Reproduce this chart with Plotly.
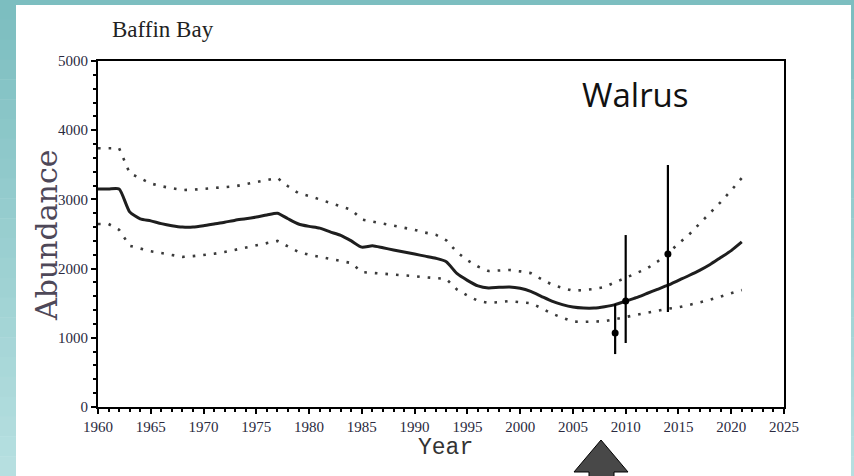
import plotly.graph_objects as go

# ---------------- data ----------------
years = list(range(1960, 2022))
abundance = [3150, 3150, 3150, 2820, 2720, 2690, 2650, 2620, 2600, 2600,
             2620, 2645, 2670, 2700, 2720, 2745, 2775, 2800, 2720, 2645,
             2610, 2585, 2530, 2480, 2400, 2310, 2330, 2300, 2270, 2240,
             2210, 2180, 2150, 2100, 1930, 1830, 1750, 1720, 1730, 1735,
             1715, 1670, 1600, 1530, 1480, 1445, 1430, 1430, 1450, 1480,
             1530, 1580, 1640, 1700, 1760, 1830, 1900, 1975, 2060, 2160,
             2260, 2385]
upper_ci = [3740, 3740, 3740, 3380, 3300, 3230, 3190, 3160, 3135, 3140,
            3150, 3160, 3175, 3190, 3220, 3250, 3280, 3310, 3190, 3090,
            3050, 3000, 2960, 2900, 2850, 2710, 2680, 2650, 2630, 2590,
            2560, 2520, 2490, 2410, 2240, 2120, 2030, 1965, 1970, 1980,
            1960, 1935, 1850, 1770, 1720, 1680, 1690, 1705, 1735, 1800,
            1865, 1935, 2000, 2100, 2220, 2360, 2490, 2650, 2800, 2960,
            3130, 3310]
lower_ci = [2645, 2645, 2560, 2330, 2290, 2250, 2225, 2195, 2170, 2180,
            2195, 2215, 2240, 2270, 2300, 2340, 2370, 2400, 2320, 2240,
            2200, 2170, 2140, 2110, 2080, 1950, 1940, 1930, 1910, 1900,
            1890, 1875, 1860, 1850, 1700, 1610, 1535, 1505, 1515, 1530,
            1515, 1500, 1430, 1350, 1290, 1235, 1230, 1230, 1240, 1270,
            1300, 1330, 1370, 1395, 1420, 1440, 1470, 1510, 1550, 1600,
            1640, 1690]

survey_years = [2009, 2010, 2014]
survey_est = [1070, 1530, 2210]
survey_hi = [1490, 2485, 3497]
survey_lo = [765, 925, 1373]

x_ticks = list(range(1960, 2030, 5))
y_ticks = [0, 1000, 2000, 3000, 4000, 5000]

# ---------------- geometry helpers (pixels -> paper) ----------------
W_FIG, H_FIG = 854, 476
L, R, T, B = 98, 784, 61, 407
PW, PH = R - L, B - T


def px(x):
    return (x - L) / PW


def py(y):
    return (B - y) / PH


fig = go.Figure()

# confidence bands
dot_style = dict(color="#3a3a3a", width=2.6, dash="2.6px,8px")
fig.add_trace(go.Scatter(x=years, y=upper_ci, mode="lines", line=dot_style,
                         hoverinfo="skip", showlegend=False))
fig.add_trace(go.Scatter(x=years, y=lower_ci, mode="lines", line=dot_style,
                         hoverinfo="skip", showlegend=False))
# trend line
fig.add_trace(go.Scatter(x=years, y=abundance, mode="lines",
                         line=dict(color="#1e1e1e", width=3, shape="spline", smoothing=0.6),
                         showlegend=False))
# survey estimates with error bars
fig.add_trace(go.Scatter(
    x=survey_years, y=survey_est, mode="markers",
    marker=dict(color="black", size=7),
    error_y=dict(type="data", symmetric=False,
                 array=[h - e for h, e in zip(survey_hi, survey_est)],
                 arrayminus=[e - l for e, l in zip(survey_est, survey_lo)],
                 color="black", thickness=2.2, width=0),
    showlegend=False))

# ---------------- decoration ----------------
shapes = []
# teal gradient background
n = 24
c0 = (124, 190, 192)
c1 = (182, 223, 224)
for i in range(n):
    t = i / (n - 1)
    c = tuple(int(round(a + (b - a) * t)) for a, b in zip(c0, c1))
    y0 = H_FIG * i / n
    y1 = H_FIG * (i + 1) / n + 0.5
    shapes.append(dict(type="rect", xref="paper", yref="paper",
                       x0=px(0), x1=px(W_FIG), y0=py(y1), y1=py(y0),
                       fillcolor="rgb(%d,%d,%d)" % c, line=dict(width=0),
                       layer="below"))
# white panel
shapes.append(dict(type="rect", xref="paper", yref="paper",
                   x0=px(16), x1=px(851), y0=py(480), y1=py(5),
                   fillcolor="white", line=dict(width=0), layer="below"))
# arrow pointing up
pts = [(601, 440), (628, 472), (614, 472), (614, 480), (589, 480), (589, 472), (574, 472)]
path = "M " + " L ".join("%.5f,%.5f" % (px(a), py(b)) for a, b in pts) + " Z"
shapes.append(dict(type="path", xref="paper", yref="paper", path=path,
                   fillcolor="#484848", line=dict(color="black", width=1)))

annotations = [
    dict(text="Baffin Bay", xref="paper", yref="paper", x=px(163), y=py(30),
         xanchor="center", yanchor="middle", showarrow=False,
         font=dict(family="Liberation Serif", size=23, color="#222222")),
    dict(text="Walrus", xref="paper", yref="paper", x=px(635), y=py(94),
         xanchor="center", yanchor="middle", showarrow=False,
         font=dict(family="Open Sans", size=33, color="#111111")),
    dict(text="Abundance", xref="paper", yref="paper", x=px(46), y=py(236),
         xanchor="center", yanchor="middle", showarrow=False, textangle=-90,
         font=dict(family="DejaVu Serif", size=30, color="#4e4858")),
    dict(text="Year", xref="paper", yref="paper", x=px(445), y=py(448),
         xanchor="center", yanchor="middle", showarrow=False,
         font=dict(family="Liberation Mono", size=23, color="#333333")),
]

tick_font = dict(family="Liberation Serif", size=15, color="#2a2a40")

fig.update_layout(
    width=W_FIG, height=H_FIG,
    margin=dict(l=L, r=W_FIG - R, t=T, b=H_FIG - B, pad=0),
    paper_bgcolor="white", plot_bgcolor="rgba(0,0,0,0)",
    shapes=shapes, annotations=annotations,
    xaxis=dict(range=[1960, 2025], tickvals=x_ticks, ticktext=[str(v) for v in x_ticks],
               showgrid=False, zeroline=False, showline=True, mirror=True,
               linecolor="black", linewidth=2, ticks="outside", ticklen=5,
               tickwidth=2, tickcolor="black", tickfont=tick_font,
               minor=dict(dtick=1, ticks="outside", ticklen=3, tickwidth=1.5,
                          tickcolor="black", showgrid=False)),
    yaxis=dict(range=[0, 5000], tickvals=y_ticks, ticktext=[str(v) for v in y_ticks],
               showgrid=False, zeroline=False, showline=True, mirror=True,
               linecolor="black", linewidth=2, ticks="outside", ticklen=5,
               tickwidth=2, tickcolor="black", tickfont=tick_font,
               minor=dict(dtick=200, ticks="outside", ticklen=3, tickwidth=1.5,
                          tickcolor="black", showgrid=False)),
)

fig.write_html("out.html", config={"displayModeBar": False},
               post_script="document.body.style.margin='0';document.body.style.padding='0';")
